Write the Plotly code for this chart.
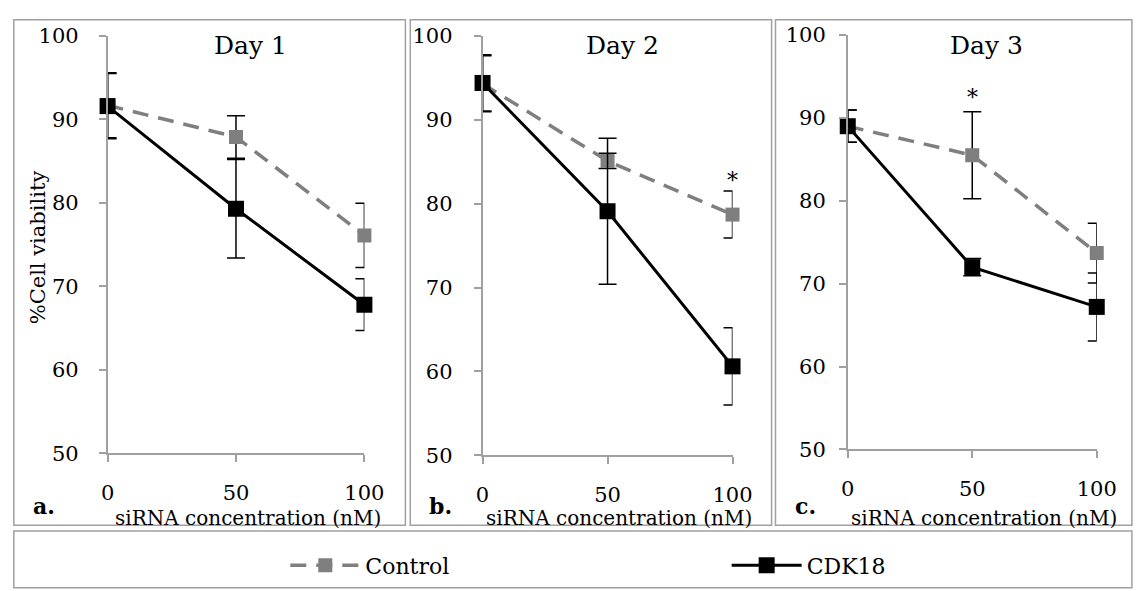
import plotly.graph_objects as go

W, H = 1148, 591

# siRNA concentrations (nM)
conc = [0, 50, 100]
days = ["Day 1", "Day 2", "Day 3"]
panel_tags = ["a.", "b.", "c."]
series_names = ["Control", "CDK18"]

# % cell viability (mean) and error (+/-) per day
control_mean = [[91.7, 87.9, 76.1], [94.3, 85.1, 78.7], [89.0, 85.5, 73.7]]
control_err = [[3.9, 2.55, 3.85], [3.35, 0.9, 2.8], [1.95, 5.25, 3.6]]
cdk18_mean = [[91.6, 79.3, 67.8], [94.4, 79.1, 60.6], [89.0, 72.0, 67.2]]
cdk18_err = [[3.9, 5.9, 3.1], [3.35, 8.7, 4.6], [1.95, 1.05, 4.1]]

# significance marks: (day index, concentration, y value)
stars = [(1, 100, 83.4), (2, 50, 93.1)]

y_ticks = [50, 60, 70, 80, 90, 100]
x_ticks = [0, 50, 100]

FONT = "DejaVu Serif"
GRAY_AX = "#A0A0A0"
CTRL = "#7F7F7F"

# plot-area boxes in pixels: (left, right, top, bottom)
areas = [(103, 366, 25, 460), (487, 743, 25, 462), (861, 1116, 24, 456)]
# panel frames in pixels
frames = [(7, 408, 8, 535), (413, 783, 8, 535), (787, 1152, 8, 535)]
label_standoff = [16, 17, 9]


def px(x):
    return x / W


def py(y):
    return 1 - y / H


fig = go.Figure()

for i in range(3):
    xa = "x" if i == 0 else f"x{i + 1}"
    ya = "y" if i == 0 else f"y{i + 1}"
    fig.add_trace(go.Scatter(
        x=conc, y=control_mean[i], xaxis=xa, yaxis=ya,
        name=series_names[0], legend="legend", showlegend=(i == 0),
        mode="lines+markers", cliponaxis=False,
        line=dict(color=CTRL, width=3.5, dash="16px,10px"),
        marker=dict(symbol="square", size=14, color=CTRL),
        error_y=dict(type="data", array=control_err[i], color="black",
                     thickness=1.5, width=9),
    ))
    fig.add_trace(go.Scatter(
        x=conc, y=cdk18_mean[i], xaxis=xa, yaxis=ya,
        name=series_names[1], legend="legend2", showlegend=(i == 0),
        mode="lines+markers", cliponaxis=False,
        line=dict(color="black", width=3),
        marker=dict(symbol="square", size=16, color="black"),
        error_y=dict(type="data", array=cdk18_err[i], color="black",
                     thickness=1.5, width=9),
    ))

layout = dict(
    width=W, height=H,
    margin=dict(l=0, r=0, t=0, b=0),
    paper_bgcolor="white", plot_bgcolor="white",
    font=dict(family=FONT, color="black", size=21),
    shapes=[], annotations=[],
)

for i, (l, r, t, b) in enumerate(areas):
    sfx = "" if i == 0 else str(i + 1)
    layout[f"xaxis{sfx}"] = dict(
        domain=[px(l), px(r)], range=[0, 100], anchor=f"y{sfx}",
        tickvals=x_ticks, ticks="outside", ticklen=7, tickcolor=GRAY_AX,
        tickwidth=1.5, showline=True, linecolor=GRAY_AX, linewidth=1.5,
        showgrid=False, zeroline=False, ticklabelstandoff=13,
        tickfont=dict(size=21, family=FONT),
    )
    layout[f"yaxis{sfx}"] = dict(
        domain=[py(b), py(t)], range=[50, 100], anchor=f"x{sfx}",
        tickvals=y_ticks, ticks="outside", ticklen=7, tickcolor=GRAY_AX,
        tickwidth=1.5, showline=True, linecolor=GRAY_AX, linewidth=1.5,
        showgrid=False, zeroline=False, ticklabelstandoff=label_standoff[i],
        tickfont=dict(size=21, family=FONT),
    )
    # day title
    layout["annotations"].append(dict(
        text=days[i], xref="paper", yref="paper",
        x=px((l + r) / 2 + 15), y=py(35), showarrow=False,
        font=dict(size=25, family=FONT), xanchor="center", yanchor="middle",
    ))
    # x-axis title
    layout["annotations"].append(dict(
        text="siRNA concentration (nM)", xref="paper", yref="paper",
        x=px((l + r) / 2 + 12), y=py(527), showarrow=False,
        font=dict(size=20, family=FONT), xanchor="center", yanchor="middle",
    ))
    # panel tag
    fl, fr, ft, fb = frames[i]
    layout["annotations"].append(dict(
        text=f"<b>{panel_tags[i]}</b>", xref="paper", yref="paper",
        x=px(fl + 31), y=py(515), showarrow=False,
        font=dict(size=22, family=FONT), xanchor="center", yanchor="middle",
    ))
    layout["shapes"].append(dict(
        type="rect", xref="paper", yref="paper",
        x0=px(fl), x1=px(fr), y0=py(fb), y1=py(ft),
        line=dict(color=GRAY_AX, width=1.5), layer="below",
    ))

# legend frame
layout["shapes"].append(dict(
    type="rect", xref="paper", yref="paper",
    x0=px(7), x1=px(1152), y0=py(600), y1=py(541),
    line=dict(color=GRAY_AX, width=1.5), layer="below",
))

# y-axis title on the first panel
layout["annotations"].append(dict(
    text="%Cell viability", xref="paper", yref="paper",
    x=px(32), y=py(245), showarrow=False, textangle=-90,
    font=dict(size=21, family=FONT), xanchor="center", yanchor="middle",
))

# significance asterisks
for d, xv, yv in stars:
    sfx = "" if d == 0 else str(d + 1)
    layout["annotations"].append(dict(
        text="*", xref=f"x{sfx}", yref=f"y{sfx}", x=xv, y=yv,
        showarrow=False, font=dict(size=22, family=FONT), yshift=-5,
    ))

legend_style = dict(
    xanchor="left", yanchor="middle", orientation="h",
    bgcolor="rgba(0,0,0,0)", borderwidth=0, itemwidth=70,
    font=dict(size=22, family=FONT, color="black"),
)
layout["legend"] = dict(x=px(285), y=py(577), **legend_style)
layout["legend2"] = dict(x=px(737), y=py(577), **legend_style)

fig.update_layout(**layout)
fig.write_html("out.html")
